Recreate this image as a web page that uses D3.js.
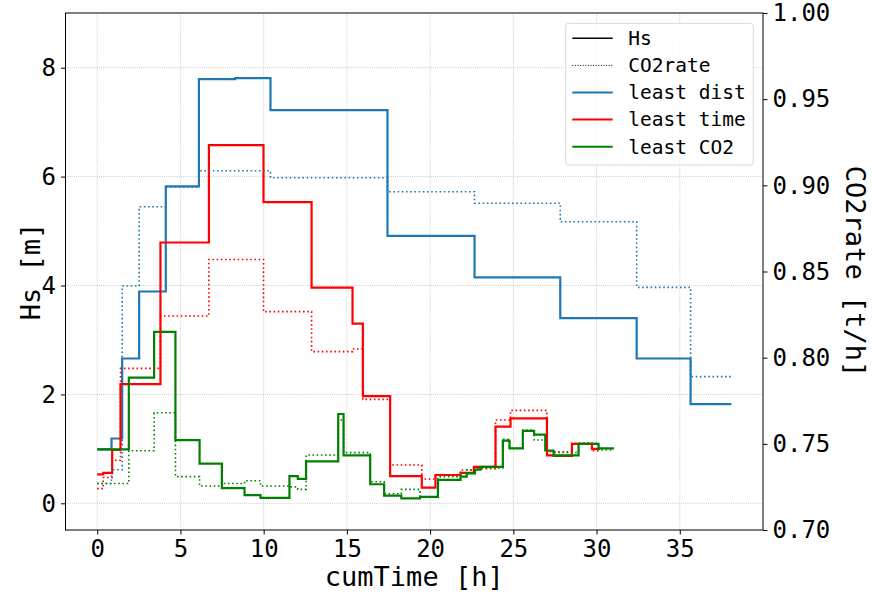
<!DOCTYPE html>
<html>
<head>
<meta charset="utf-8">
<script src="https://cdn.jsdelivr.net/npm/d3@7"></script>
<style>
  html, body { margin: 0; padding: 0; background: #fff; }
  svg { display: block; }
  text { font-family: "DejaVu Sans Mono", monospace; fill: #000; }
</style>
</head>
<body>
<svg id="chart" width="872" height="596"></svg>
<script>
// ---- route data: leg start times [h], last entry is the arrival time ----
const distT   = [0, 0.86, 1.5, 2.52, 4.12, 6.11, 8.29, 10.41, 17.44, 22.67, 27.82, 32.41, 35.65, 38.1];
const distHs  = [0.99, 1.19, 2.66, 3.89, 5.82, 7.79, 7.81, 7.22, 4.91, 4.15, 3.40, 2.66, 1.82];
const distCO2 = [0.727, 0.735, 0.8416, 0.8876, 0.899, 0.9085, 0.9085, 0.9044, 0.8963, 0.8896, 0.8789, 0.8408, 0.789];

const timeT   = [0, 0.36, 0.9, 1.4, 3.8, 6.71, 9.99, 12.88, 15.34, 15.96, 17.6, 19.5, 20.32, 21.83, 22.63, 23.93, 24.83, 27.02, 27.42, 28.52, 29.72, 30.22];
const timeHs  = [0.53, 0.56, 0.98, 2.19, 4.79, 6.58, 5.53, 3.96, 3.30, 1.97, 0.50, 0.29, 0.52, 0.56, 0.67, 1.41, 1.56, 0.88, 0.87, 1.09, 1.00];
const timeCO2 = [0.724, 0.7305, 0.7405, 0.7938, 0.8242, 0.857, 0.8267, 0.8035, 0.805, 0.7758, 0.7377, 0.7296, 0.7319, 0.7348, 0.7355, 0.7638, 0.7694, 0.7454, 0.7454, 0.7503, 0.746];

const co2T    = [0, 1.9, 3.42, 4.7, 6.15, 7.49, 8.85, 9.81, 11.55, 12.05, 12.55, 14.48, 14.8, 16.4, 17.24, 18.27, 19.4, 20.47, 21.83, 22.2, 22.7, 23.03, 24.37, 24.77, 25.57, 26.25, 26.92, 27.42, 28.92, 30.12, 31.05];
const co2Hs   = [0.99, 2.31, 3.15, 1.16, 0.73, 0.28, 0.15, 0.10, 0.50, 0.45, 0.77, 1.64, 0.88, 0.35, 0.14, 0.09, 0.12, 0.43, 0.49, 0.55, 0.62, 0.67, 1.15, 1.01, 1.33, 1.26, 0.97, 0.88, 1.09, 1.01];
const co2CO2  = [0.727, 0.746, 0.768, 0.731, 0.7255, 0.727, 0.7286, 0.7255, 0.725, 0.7236, 0.7435, 0.7638, 0.7449, 0.728, 0.721, 0.7236, 0.719, 0.731, 0.733, 0.735, 0.736, 0.736, 0.7526, 0.7474, 0.758, 0.7522, 0.7459, 0.745, 0.7503, 0.7464];

const xTicks  = [0, 5, 10, 15, 20, 25, 30, 35];
const hsTicks = [0, 2, 4, 6, 8];
const co2Ticks = [0.70, 0.75, 0.80, 0.85, 0.90, 0.95, 1.00];

const routes = [
  { name: "least dist", color: "#1f77b4", t: distT, hs: distHs, co2: distCO2 },
  { name: "least time", color: "#ff0000", t: timeT, hs: timeHs, co2: timeCO2 },
  { name: "least CO2",  color: "#008000", t: co2T,  hs: co2Hs,  co2: co2CO2 }
];

// ---- layout ----
const L = 65.5, R = 763, T = 13, B = 530;
const svg = d3.select("#chart");

const x  = d3.scaleLinear().domain([-1.905, 40.0]).range([L, R]);
const yH = d3.scaleLinear().domain([-0.49, 9.005]).range([B, T]);
const yC = d3.scaleLinear().domain([0.70, 1.00]).range([B, T]);

// grid (from the primary axes)
const grid = svg.append("g").attr("stroke", "#b0b0b0").attr("stroke-width", 0.8)
  .attr("stroke-dasharray", "0.8,1.3");
xTicks.forEach(v => grid.append("line")
  .attr("x1", x(v)).attr("x2", x(v)).attr("y1", T).attr("y2", B));
hsTicks.forEach(v => grid.append("line")
  .attr("x1", L).attr("x2", R).attr("y1", yH(v)).attr("y2", yH(v)));

// clip to the plotting area
svg.append("clipPath").attr("id", "plotclip").append("rect")
  .attr("x", L).attr("y", T).attr("width", R - L).attr("height", B - T);

function stepPoints(t, vals) {
  const pts = vals.map((v, i) => [t[i], v]);
  pts.push([t[t.length - 1], vals[vals.length - 1]]);
  return pts;
}

const plot = svg.append("g").attr("clip-path", "url(#plotclip)");
const lineH = d3.line().x(d => x(d[0])).y(d => yH(d[1])).curve(d3.curveStepAfter);
const lineC = d3.line().x(d => x(d[0])).y(d => yC(d[1])).curve(d3.curveStepAfter);

// wave height, solid
routes.forEach(r => {
  plot.append("path").attr("d", lineH(stepPoints(r.t, r.hs)))
    .attr("fill", "none").attr("stroke", r.color).attr("stroke-width", 2.2)
    .attr("stroke-linejoin", "miter");
});
// CO2 rate on the twin axis, dotted
routes.forEach(r => {
  plot.append("path").attr("d", lineC(stepPoints(r.t, r.co2)))
    .attr("fill", "none").attr("stroke", r.color).attr("stroke-width", 1.6)
    .attr("stroke-dasharray", "1.6,2.6");
});

// axes
const fs = 24;
const xAxis = svg.append("g").attr("transform", `translate(0,${B})`)
  .call(d3.axisBottom(x).tickValues(xTicks).tickFormat(d3.format("d")).tickSize(4.5).tickPadding(5));
const yAxisL = svg.append("g").attr("transform", `translate(${L},0)`)
  .call(d3.axisLeft(yH).tickValues(hsTicks).tickFormat(d3.format("d")).tickSize(4.5).tickPadding(5));
const yAxisR = svg.append("g").attr("transform", `translate(${R},0)`)
  .call(d3.axisRight(yC).tickValues(co2Ticks).tickFormat(d3.format(".2f")).tickSize(4.5).tickPadding(5));
[xAxis, yAxisL, yAxisR].forEach(g => {
  g.select(".domain").remove();
  g.selectAll(".tick line").attr("stroke", "#000").attr("stroke-width", 1);
  g.selectAll(".tick text").style("font-family", "DejaVu Sans Mono").style("font-size", fs + "px").attr("fill", "#000");
});

// frame
svg.append("rect").attr("x", L).attr("y", T).attr("width", R - L).attr("height", B - T)
  .attr("fill", "none").attr("stroke", "#000").attr("stroke-width", 1);

// axis labels
svg.append("text").attr("x", (L + R) / 2).attr("y", 586).attr("text-anchor", "middle")
  .style("font-size", "27px").text("cumTime [h]");
svg.append("text").attr("transform", `translate(31,${(T + B) / 2}) rotate(-90)`)
  .attr("text-anchor", "middle").attr("dy", "0.35em").style("font-size", "27px").text("Hs [m]");
svg.append("text").attr("transform", `translate(855,${(T + B) / 2}) rotate(90)`)
  .attr("text-anchor", "middle").attr("dy", "0.35em").style("font-size", "27px").text("CO2rate [t/h]");

// legend
const leg = svg.append("g");
leg.append("rect").attr("x", 565.7).attr("y", 23.3).attr("width", 187.6).attr("height", 141.7)
  .attr("rx", 3).attr("fill", "#fff").attr("fill-opacity", 0.8).attr("stroke", "#d9d9d9").attr("stroke-width", 1);
const items = [
  { label: "Hs", color: "#000", dash: null, w: 1.5 },
  { label: "CO2rate", color: "#000", dash: "1,1.6", w: 1 },
  ...routes.map(r => ({ label: r.name, color: r.color, dash: null, w: 2 }))
];
items.forEach((it, i) => {
  const yy = 38.3 + i * 27.1;
  const ln = leg.append("line").attr("x1", 572.3).attr("x2", 612.7).attr("y1", yy).attr("y2", yy)
    .attr("stroke", it.color).attr("stroke-width", it.w);
  if (it.dash) ln.attr("stroke-dasharray", it.dash);
  leg.append("text").attr("x", 628.3).attr("y", yy).attr("dy", "0.35em")
    .style("font-size", "19.5px").text(it.label);
});
</script>
</body>
</html>
